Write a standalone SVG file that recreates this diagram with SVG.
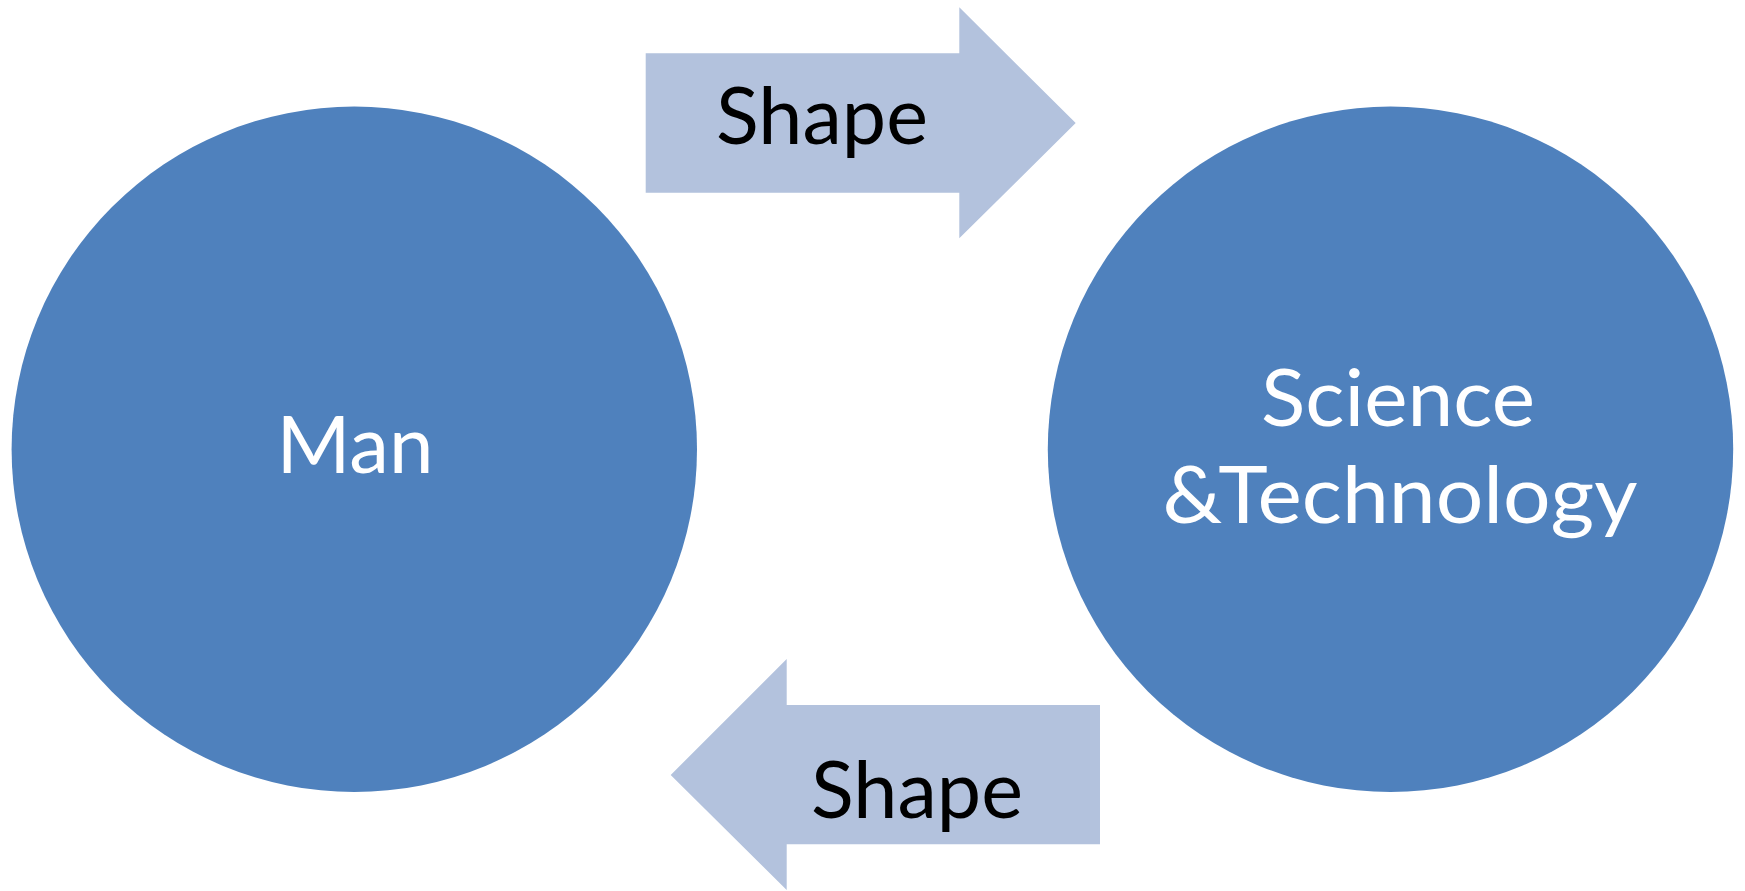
<svg xmlns="http://www.w3.org/2000/svg" width="1745" height="891" viewBox="0 0 1745 891">
<style>
.circle{fill:#4F81BD}
.arrow{fill:#B3C2DD}
.lbl{font-family:Lato,"Open Sans","Liberation Sans",sans-serif;font-size:80px;text-anchor:middle}
.white{fill:#FFFFFF}
.black{fill:#000000}
</style>
<rect width="1745" height="891" fill="#FFFFFF"/>
<g id="connectors">
<g id="arrow-top">
<polygon class="arrow" points="645.7,53.3 959.3,53.3 959.3,7.3 1075.7,123 959.3,238.3 959.3,192.7 645.7,192.7"/>
<text class="lbl black" x="822" y="144" textLength="212" lengthAdjust="spacingAndGlyphs">Shape</text>
</g>
<g id="arrow-bottom">
<polygon class="arrow" points="1100,705 786.7,705 786.7,659 670.7,775 786.7,890 786.7,844.3 1100,844.3"/>
<text class="lbl black" x="917" y="818" textLength="212" lengthAdjust="spacingAndGlyphs">Shape</text>
</g>
</g>
<g id="node-man">
<circle class="circle" cx="354.3" cy="449.3" r="342.7"/>
<text class="lbl white" x="355" y="473.4" textLength="157" lengthAdjust="spacingAndGlyphs">Man</text>
</g>
<g id="node-scitech">
<circle class="circle" cx="1390.5" cy="449.3" r="342.7"/>
<text class="lbl white" x="1398" y="426" textLength="274" lengthAdjust="spacingAndGlyphs">Science</text>
<text class="lbl white" x="1400" y="522.5" textLength="475" lengthAdjust="spacingAndGlyphs">&amp;Technology</text>
</g>
</svg>
